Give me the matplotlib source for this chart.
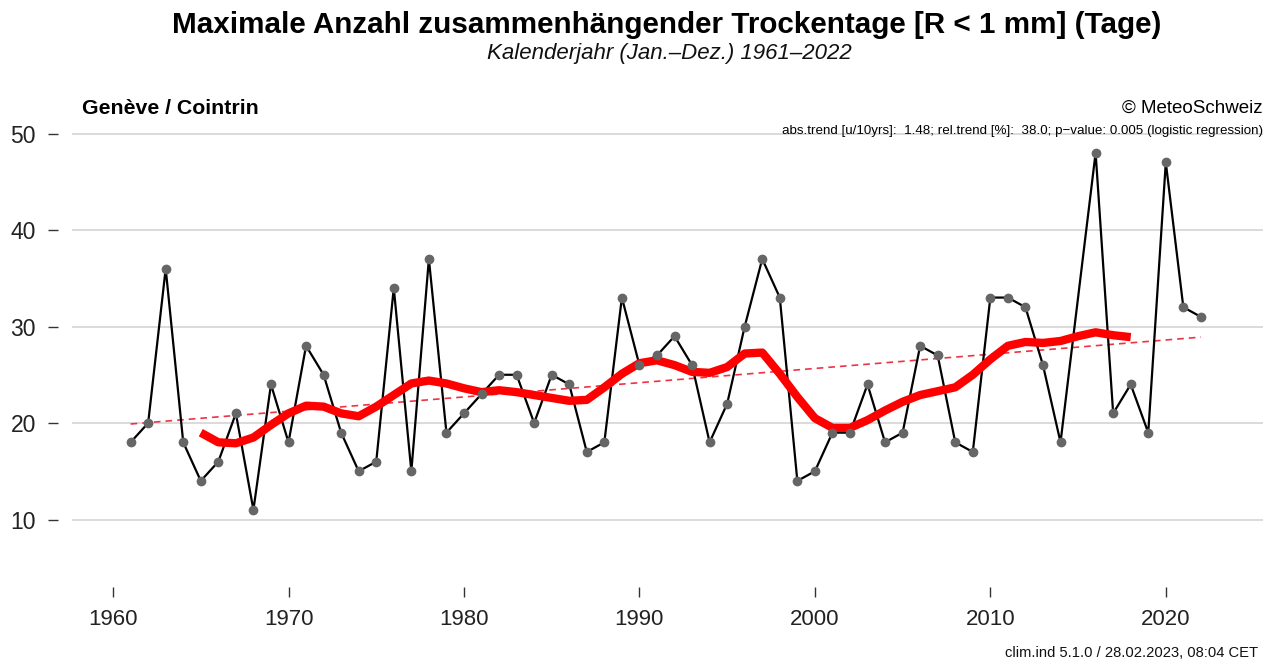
import numpy as np
import matplotlib
matplotlib.use("Agg")
import matplotlib.pyplot as plt

plt.rcParams['font.family'] = ['Liberation Sans', 'DejaVu Sans']

# ---- data ----
years = list(range(1961, 2023))
values = [18, 20, 36, 18, 14, 16, 21, 11, 24, 18,
          28, 25, 19, 15, 16, 34, 15, 37, 19, 21,
          23, 25, 25, 20, 25, 24, 17, 18, 33, 26,
          27, 29, 26, 18, 22, 30, 37, 33, 14, 15,
          19, 19, 24, 18, 19, 28, 27, 18, 17, 33,
          33, 32, 26, 18, np.nan, 48, 21, 24, 19, 47,
          32, 31]
smooth_years = list(range(1965, 2019))
smooth_values = [19.0, 18.0, 17.9, 18.5, 19.8, 21.0, 21.8, 21.7, 21.0, 20.7,
                 21.7, 22.9, 24.1, 24.4, 24.1, 23.6, 23.2, 23.4, 23.2, 22.9,
                 22.6, 22.3, 22.4, 23.7, 25.1, 26.2, 26.5, 26.0, 25.3, 25.2,
                 25.8, 27.2, 27.3, 25.1, 22.7, 20.5, 19.5, 19.5, 20.3, 21.3,
                 22.2, 22.9, 23.3, 23.7, 25.0, 26.6, 28.0, 28.4, 28.3, 28.5,
                 29.0, 29.4, 29.1, 28.9]
trend_years = [1961, 2022]
trend_values = [19.9, 28.9]
xticks = [1960, 1970, 1980, 1990, 2000, 2010, 2020]
yticks = [10, 20, 30, 40, 50]

title = "Maximale Anzahl zusammenhängender Trockentage [R < 1 mm] (Tage)"
subtitle = "Kalenderjahr (Jan.–Dez.) 1961–2022"
station = "Genève / Cointrin"
copyright_txt = "© MeteoSchweiz"
trend_txt = ("abs.trend [u/10yrs]:  1.48; rel.trend [%]:  38.0; "
             "p−value: 0.005 (logistic regression)")
footer = "clim.ind 5.1.0 / 28.02.2023, 08:04 CET"

# ---- figure ----
W, H = 1273, 662
fig = plt.figure(figsize=(W / 100, H / 100), dpi=100)
ax = fig.add_axes([72 / W, 1 - 570 / H, (1263 - 72) / W, (570 - 120) / H])

ax.set_xlim(1957.66, 2025.54)
ax.set_ylim(4.77, 51.4)

for s in ax.spines.values():
    s.set_visible(False)
ax.spines['left'].set_position(('outward', 10))
ax.spines['bottom'].set_position(('outward', 12))

ax.set_yticks(yticks)
ax.set_xticks(xticks)
ax.tick_params(axis='y', direction='out', length=7, width=1.0, color='#333333',
               pad=9, labelsize=16.5, labelcolor='#222222')
ax.tick_params(axis='x', direction='out', length=7, width=1.0, color='#333333',
               pad=9, labelsize=16, labelcolor='#222222')

ax.grid(axis='y', color='#d4d4d4', linewidth=1.2)
ax.set_axisbelow(True)

yrs = np.array(years, dtype=float)
vals = np.array(values, dtype=float)
ok = ~np.isnan(vals)

ax.plot(trend_years, trend_values, color='#ee3344', lw=1.2, dashes=(4, 3), zorder=2)
ax.plot(yrs[ok], vals[ok], color='black', lw=1.6, zorder=3)
ax.plot(smooth_years, smooth_values, color='#ff0000', lw=6,
        solid_capstyle='butt', solid_joinstyle='round', zorder=4)
ax.plot(yrs[ok], vals[ok], linestyle='none', marker='o', markersize=6,
        markerfacecolor='#666666', markeredgecolor='#666666', zorder=5)

fig.text(667 / W, 1 - 25 / H, title, ha='center', va='center',
         fontsize=21.3, fontweight='bold', color='black')
fig.text(669 / W, 1 - 54 / H, subtitle, ha='center', va='center',
         fontsize=16, style='italic', color='#111111')
fig.text(82 / W, 1 - 108 / H, station, ha='left', va='center',
         fontsize=15.3, fontweight='bold', color='black')
fig.text(1263 / W, 1 - 108 / H, copyright_txt, ha='right', va='center',
         fontsize=13.5, color='black')
fig.text(1263 / W, 1 - 131 / H, trend_txt, ha='right', va='center',
         fontsize=9.6, color='black')
fig.text(1258 / W, 1 - 653 / H, footer, ha='right', va='center',
         fontsize=10.6, color='#111111')

fig.savefig("out.png", dpi=100)
